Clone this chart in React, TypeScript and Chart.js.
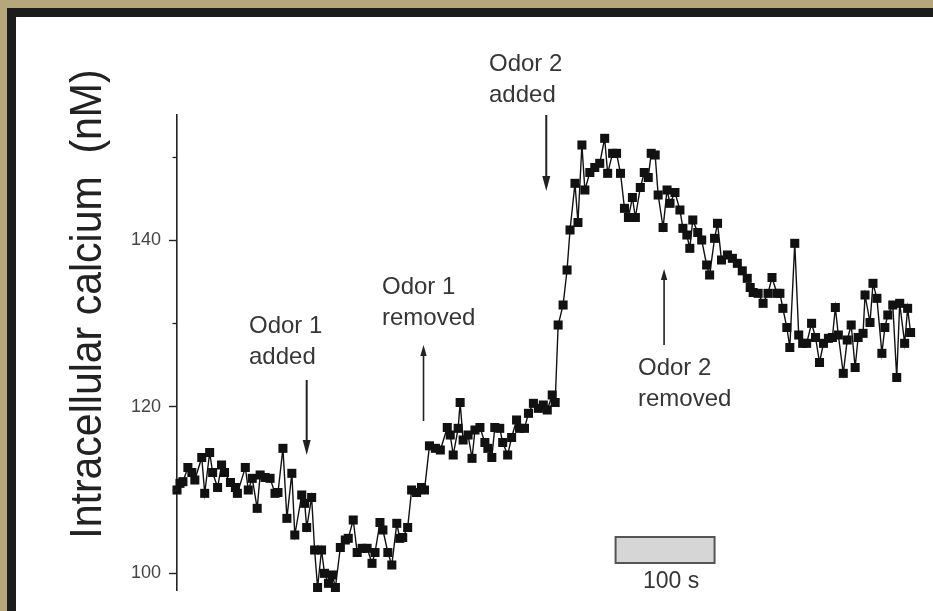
import React, { useEffect, useRef } from 'react';
import { Chart, registerables } from 'chart.js';

Chart.register(...registerables);

// Time (s) of each sample
const timeS = [
  0, 3, 6, 11, 15, 18, 25, 28, 33, 36, 41, 45, 48, 54, 59, 61, 69, 72, 76, 81, 84, 89, 94, 99, 102, 107, 111, 116, 119,
  126, 129, 131, 136, 139, 142, 146, 149, 153, 157, 160, 165, 170, 173, 178, 182, 187, 192, 197, 200, 205, 208, 213, 217, 222, 225, 228, 233, 237, 242, 247, 250, 255,
  261, 266, 273, 276, 279, 284, 286, 289, 294, 298, 301, 306, 311, 314, 318, 321, 326, 329, 334, 338, 343, 346, 351, 355, 360, 365, 370, 374, 379, 382,
  385, 390, 394, 397, 402, 405, 409, 412, 417, 422, 427, 432, 435, 440, 444, 448, 452, 456, 460, 463, 468, 472, 476, 479, 483,
  486, 491, 495, 498, 503, 508, 511, 515, 518, 521, 526, 530, 535, 538, 543, 546, 550, 556, 561, 566,
  571, 576, 579, 582, 587, 592, 597, 601, 606, 609, 612, 616, 619, 624, 628, 632, 636, 641, 645, 649,
  653, 658, 662, 665, 668, 673, 677, 681, 685, 688, 693, 695, 700, 703, 707, 712, 715, 718, 723, 727,
  730, 735, 738, 741,
];

// Intracellular calcium (nM)
const calciumNM = [
  110.0, 110.8, 111.0, 112.7, 112.1, 111.2, 113.9, 109.6, 114.5, 112.1, 110.3, 113.0, 112.1, 110.9, 110.3, 109.6, 112.7, 110.0, 111.4, 107.8, 111.8, 111.5, 111.4, 109.6, 109.7, 115.0, 106.6, 112.0, 104.6,
  109.4, 108.4, 105.5, 109.1, 102.8, 98.3, 102.8, 100.0, 98.8, 99.8, 98.3, 103.1, 104.0, 104.2, 106.4, 102.5, 103.0, 103.0, 101.2, 102.5, 106.1, 105.2, 102.5, 101.0, 106.0, 104.2, 104.3, 105.5, 110.0, 109.7, 110.3, 110.0, 115.3,
  115.0, 114.8, 117.5, 116.6, 114.2, 117.4, 120.5, 116.0, 116.6, 113.8, 117.2, 117.5, 115.7, 115.0, 113.9, 117.5, 117.4, 115.7, 114.2, 116.3, 118.4, 117.4, 117.4, 119.2, 120.4, 119.8, 120.2, 119.6, 121.4, 120.5,
  129.8, 132.2, 136.4, 141.2, 146.8, 142.1, 151.4, 146.0, 148.1, 148.7, 149.2, 152.2, 148.0, 150.4, 150.4, 148.0, 143.8, 142.7, 145.1, 142.7, 146.3, 148.1, 147.5, 150.4, 150.2,
  145.4, 141.5, 146.0, 144.4, 145.7, 143.6, 141.4, 140.6, 139.0, 142.4, 140.9, 140.0, 137.0, 135.8, 140.2, 142.0, 137.6, 138.2, 137.8, 137.2,
  136.3, 135.4, 134.3, 133.7, 133.6, 132.4, 133.6, 135.5, 133.6, 133.6, 131.8, 129.5, 127.1, 139.6, 128.6, 127.6, 127.6, 130.0, 128.3, 125.3,
  127.6, 128.2, 128.3, 131.9, 128.6, 124.0, 128.0, 129.8, 124.7, 128.3, 128.8, 133.4, 130.1, 134.8, 133.0, 126.4, 129.5, 131.0, 132.2, 123.5,
  132.4, 127.6, 131.8, 128.9,
];

const majorTicks = [100, 120, 140];
const minorTicks = [110, 130, 150];
const yTitle = 'Intracellular calcium  (nM)';

// Odor events (s) and their labels
const eventTimes = [131, 249, 373, 492];
const eventLines = [
  ['Odor 1', 'added'],
  ['Odor 1', 'removed'],
  ['Odor 2', 'added'],
  ['Odor 2', 'removed'],
];
const scaleBarStartS = 443;
const scaleBarEndS = 543;
const scaleBarLabel = '100 s';

const FONT = '"Liberation Sans", Arial, Helvetica, sans-serif';

// layout of annotations (canvas px)
const eventTextLeft = [233, 366, 473, 622];
const eventTextBase = [316, 277, 54, 358];
const eventArrowFrom = [363, 404, 98, 328];
const eventArrowTip = [438, 328, 174, 252];

function drawArrow(ctx: CanvasRenderingContext2D, x: number, from: number, tip: number, down: boolean) {
  const headLen = down ? 15 : 11;
  const half = down ? 4 : 3.2;
  const dir = tip > from ? 1 : -1;
  ctx.save();
  ctx.strokeStyle = '#222';
  ctx.fillStyle = '#222';
  ctx.lineWidth = down ? 2 : 1.6;
  ctx.beginPath();
  ctx.moveTo(x, from);
  ctx.lineTo(x, tip - dir * headLen * 0.8);
  ctx.stroke();
  ctx.beginPath();
  ctx.moveTo(x, tip);
  ctx.lineTo(x - half, tip - dir * headLen);
  ctx.lineTo(x + half, tip - dir * headLen);
  ctx.closePath();
  ctx.fill();
  ctx.restore();
}

const annotationPlugin = {
  id: 'annotations',
  afterDraw(chart: any) {
    const ctx: CanvasRenderingContext2D = chart.ctx;
    const xs = chart.scales.x;
    const ys = chart.scales.y;

    // y-axis title
    ctx.save();
    ctx.translate(85, 287);
    ctx.rotate(-Math.PI / 2);
    ctx.scale(1, 1.1);
    ctx.font = `41px ${FONT}`;
    ctx.fillStyle = '#222';
    ctx.textAlign = 'center';
    ctx.textBaseline = 'alphabetic';
    ctx.fillText(yTitle, 0, 0);
    ctx.restore();

    // minor ticks
    ctx.save();
    ctx.strokeStyle = '#222';
    ctx.lineWidth = 1.3;
    const left = chart.chartArea.left;
    minorTicks.forEach((v) => {
      const y = Math.round(ys.getPixelForValue(v)) + 0.5;
      ctx.beginPath();
      ctx.moveTo(left - 4.5, y);
      ctx.lineTo(left, y);
      ctx.stroke();
    });
    ctx.restore();

    // event labels and arrows
    ctx.save();
    ctx.font = `24px ${FONT}`;
    ctx.fillStyle = '#363636';
    ctx.textAlign = 'left';
    ctx.textBaseline = 'alphabetic';
    eventTimes.forEach((t, i) => {
      const lines = eventLines[i];
      lines.forEach((ln, j) => {
        ctx.fillText(ln, eventTextLeft[i], eventTextBase[i] + j * 31);
      });
      const x = xs.getPixelForValue(t);
      const down = eventArrowTip[i] > eventArrowFrom[i];
      drawArrow(ctx, x, eventArrowFrom[i], eventArrowTip[i], down);
    });
    ctx.restore();

    // scale bar
    ctx.save();
    const x0 = xs.getPixelForValue(scaleBarStartS);
    const x1 = xs.getPixelForValue(scaleBarEndS);
    ctx.fillStyle = '#d6d6d6';
    ctx.strokeStyle = '#555';
    ctx.lineWidth = 2;
    ctx.fillRect(x0, 520, x1 - x0, 26);
    ctx.strokeRect(x0, 520, x1 - x0, 26);
    ctx.font = `23px ${FONT}`;
    ctx.fillStyle = '#363636';
    ctx.textAlign = 'left';
    ctx.fillText(scaleBarLabel, 627, 571);
    ctx.restore();
  },
};

export default function App() {
  const canvasRef = useRef<HTMLCanvasElement | null>(null);

  useEffect(() => {
    const canvas = canvasRef.current;
    if (!canvas) return;
    const points = timeS.map((t, i) => ({ x: t, y: calciumNM[i] }));
    const chart = new Chart(canvas, {
      type: 'line',
      data: {
        datasets: [
          {
            data: points,
            borderColor: '#111',
            borderWidth: 1.4,
            backgroundColor: '#111',
            pointStyle: 'rect',
            pointRadius: 6.4,
            pointBorderWidth: 0,
            pointBackgroundColor: '#111',
            tension: 0,
            clip: false as any,
          },
        ],
      },
      options: {
        animation: false,
        responsive: false,
        devicePixelRatio: 1,
        events: [],
        layout: { padding: { left: 0, right: 13.5, top: 98, bottom: 21 } },
        plugins: {
          legend: { display: false },
          tooltip: { enabled: false },
          title: { display: false },
        },
        scales: {
          x: {
            type: 'linear',
            min: 0,
            max: 750,
            display: false,
          },
          y: {
            type: 'linear',
            min: 98,
            max: 155,
            afterBuildTicks: (scale: any) => {
              scale.ticks = majorTicks.map((v) => ({ value: v }));
            },
            afterFit: (scale: any) => {
              scale.width = 161;
            },
            border: { display: true, color: '#222', width: 1.6 },
            grid: {
              drawOnChartArea: false,
              drawTicks: true,
              tickLength: 8,
              tickWidth: 1.4,
              tickColor: '#222',
            },
            ticks: {
              padding: 8,
              color: '#444',
              font: { family: FONT, size: 18 },
              callback: (v: any) => String(v),
            },
          },
        },
      },
      plugins: [annotationPlugin],
    });
    return () => chart.destroy();
  }, []);

  return (
    <div
      style={{
        position: 'absolute',
        left: 0,
        top: 0,
        width: 933,
        height: 611,
        background: '#b5a67b',
        overflow: 'hidden',
      }}
    >
      <div style={{ position: 'absolute', left: 7, top: 8, right: 0, bottom: 0, background: '#1c1c1c' }} />
      <div style={{ position: 'absolute', left: 16, top: 17, width: 917, height: 594, background: '#ffffff' }}>
        <canvas ref={canvasRef} width={917} height={594} style={{ display: 'block', width: 917, height: 594 }} />
      </div>
    </div>
  );
}
